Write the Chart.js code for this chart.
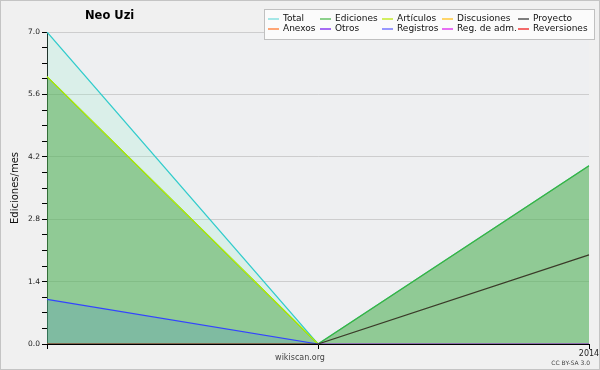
<!DOCTYPE html>
<html>
<head>
<meta charset="utf-8">
<script src="https://cdn.jsdelivr.net/npm/chart.js@4/dist/chart.umd.min.js"></script>
<style>
  html, body { margin: 0; padding: 0; background: #f0f0f0; }
  #wrap { width: 600px; height: 370px; position: relative; }
</style>
</head>
<body>
<div id="wrap"><canvas id="chart_W" width="600" height="370"></canvas></div>
<script>
/* ------------------
    Data
-------------------*/
var labels = ['', '', '2014'];
var total = [7, 0, 4];
var ediciones = [6, 0, 4];
var articulos = [6, 0, 0];
var discusiones = [0, 0, 0];
var proyecto = [0, 0, 2];
var anexos = [0, 0, 0];
var otros = [0, 0, 0];
var registros = [1, 0, 0];
var regAdm = [0, 0, 0];
var reversiones = [0, 0, 0];

var FONT = '"DejaVu Sans", sans-serif';

// line colour, legend colour
var styles = {
  Total:         ['#33cccc', '#88e0e0'],
  Ediciones:     ['#3cb43c', '#66c266'],
  'Artículos':   ['#bbee00', '#c4ea2c'],
  Discusiones:   ['#ffcc33', '#ffc83a'],
  Proyecto:      ['#3a3a28', '#555555'],
  Anexos:        ['#ff8844', '#ff8a4a'],
  Otros:         ['#8833ff', '#8a3cf0'],
  Registros:     ['#3344ff', '#7777ff'],
  'Reg. de adm.':['#ee44ee', '#e040f0'],
  Reversiones:   ['#ff3333', '#f03a3a']
};

function ds(label, data, order, fill) {
  return {
    label: label,
    data: data,
    borderColor: styles[label][0],
    borderWidth: 1.2,
    pointRadius: 0,
    tension: 0,
    fill: fill ? 'origin' : false,
    backgroundColor: fill || 'transparent',
    order: order
  };
}

/* ------------------
    Plugins
-------------------*/
var background = {
  id: 'background',
  beforeDraw: function (chart) {
    var c = chart.ctx, a = chart.chartArea;
    c.save();
    c.fillStyle = '#f0f0f0';
    c.fillRect(0, 0, chart.width, chart.height);
    c.fillStyle = '#eeeff1';
    c.fillRect(a.left, a.top, a.right - a.left, a.bottom - a.top);
    c.strokeStyle = '#c4c4c4';
    c.lineWidth = 1;
    c.strokeRect(0.5, 0.5, chart.width - 1, chart.height - 1);
    c.restore();
  }
};

var texts = {
  id: 'texts',
  afterDraw: function (chart) {
    var c = chart.ctx;
    c.save();
    c.fillStyle = '#000';
    c.textBaseline = 'middle';
    c.font = 'bold 11.5px ' + FONT;
    c.textAlign = 'left';
    c.fillText('Neo Uzi', 85, 16);
    c.fillStyle = '#444';
    c.font = '8px ' + FONT;
    c.textAlign = 'center';
    c.fillText('wikiscan.org', 300, 358);
    c.font = '6px ' + FONT;
    c.textAlign = 'right';
    c.fillText('CC BY-SA 3.0', 590, 363);

    // legend box
    var bx = 264, by = 9, bw = 330, bh = 30;
    c.fillStyle = '#fbfbfb';
    c.fillRect(bx, by, bw, bh);
    c.strokeStyle = '#c0c0c0';
    c.lineWidth = 1;
    c.strokeRect(bx + 0.5, by + 0.5, bw, bh);
    var colX = [268, 320, 382, 442, 518];
    c.font = '9px ' + FONT;
    c.textAlign = 'left';
    chart.data.datasets.forEach(function (d, i) {
      var col = i % 5, row = Math.floor(i / 5);
      var x = colX[col], y = by + 10 + row * 10;
      c.strokeStyle = styles[d.label][1];
      c.lineWidth = 1.5;
      c.beginPath();
      c.moveTo(x, y);
      c.lineTo(x + 11, y);
      c.stroke();
      c.fillStyle = '#111';
      c.fillText(d.label, x + 15, y);
    });
    c.restore();
  }
};

/* ------------------
    Line chart
-------------------*/
var chart_W = new Chart(document.getElementById('chart_W'), {
  type: 'line',
  data: {
    labels: labels,
    datasets: [
      ds('Total', total, 10, 'rgba(150,240,205,0.22)'),
      ds('Ediciones', ediciones, 9, 'rgba(70,165,65,0.5)'),
      ds('Artículos', articulos, 7),
      ds('Discusiones', discusiones, 6),
      ds('Proyecto', proyecto, 4),
      ds('Anexos', anexos, 6),
      ds('Otros', otros, 6),
      ds('Registros', registros, 5, 'rgba(60,130,210,0.2)'),
      ds('Reg. de adm.', regAdm, 6),
      ds('Reversiones', reversiones, 6)
    ]
  },
  options: {
    responsive: false,
    animation: false,
    layout: { padding: { top: 32, right: 11, left: 0, bottom: 0 } },
    plugins: { legend: { display: false }, tooltip: { enabled: false } },
    scales: {
      x: {
        z: 1,
        offset: false,
        border: { color: '#000', width: 1 },
        grid: { drawOnChartArea: false, tickLength: 5, tickColor: '#000' },
        ticks: {
          autoSkip: false, maxRotation: 0, padding: 0,
          color: '#222', font: { family: FONT, size: 8 }
        },
        afterFit: function (s) { s.height = 26; s.paddingRight = 0; s.paddingLeft = 0; }
      },
      y: {
        z: 1,
        min: 0,
        max: 7,
        border: { color: '#000', width: 1 },
        grid: {
          color: function (ctx) { return ctx.index % 4 === 0 ? 'rgba(178,178,178,0.56)' : 'rgba(0,0,0,0)'; },
          tickColor: '#000',
          tickLength: 5
        },
        ticks: {
          stepSize: 0.35,
          padding: 2,
          autoSkip: false,
          color: '#222',
          font: { family: FONT, size: 7.5 },
          callback: function (v, i) { return i % 4 === 0 ? v.toFixed(1) : ''; }
        },
        title: {
          display: true,
          text: 'Ediciones/mes',
          color: '#111',
          font: { family: FONT, size: 10 },
          padding: { top: 9, bottom: 0 }
        },
        afterFit: function (s) { s.width = 47; }
      }
    }
  },
  plugins: [background, texts]
});
</script>
</body>
</html>
